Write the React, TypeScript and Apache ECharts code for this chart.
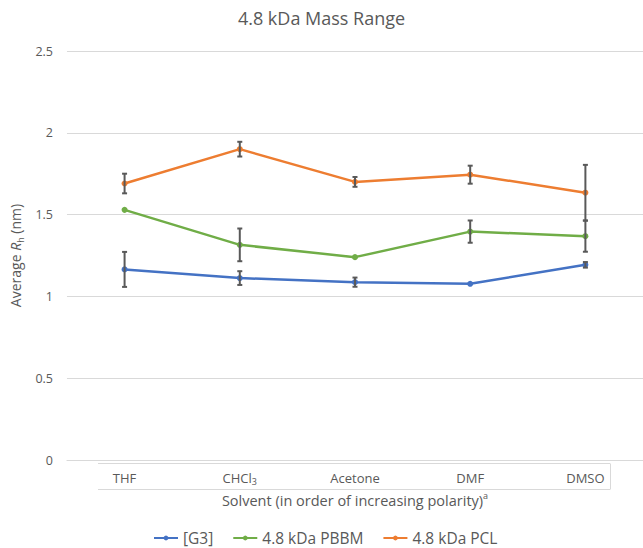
import React, { useEffect, useRef } from "react";
import * as echarts from "echarts";

const categories = ["THF", "CHCl3", "Acetone", "DMF", "DMSO"];
const seriesNames = ["[G3]", "4.8 kDa PBBM", "4.8 kDa PCL"];
const g3Values = [1.165, 1.112, 1.087, 1.077, 1.193];
const g3Errors = [0.107, 0.042, 0.028, 0, 0.017];
const pbbmValues = [1.529, 1.315, 1.24, 1.396, 1.368];
const pbbmErrors = [0, 0.1, 0, 0.068, 0.095];
const pclValues = [1.69, 1.9, 1.7, 1.744, 1.634];
const pclErrors = [0.06, 0.045, 0.03, 0.055, 0.17];
const yTicks = [0, 0.5, 1, 1.5, 2, 2.5];

const colors = ["#4472C4", "#70AD47", "#ED7D31"];
const FONT = "Open Sans";
const TXT = "#595959";

function errData(values: number[], errs: number[]) {
  return values
    .map((v, i) => [i, v - errs[i], v + errs[i], errs[i]])
    .filter((d) => d[3] > 0);
}

export default function App() {
  const ref = useRef<HTMLDivElement>(null);
  useEffect(() => {
    if (!ref.current) return;
    const chart = echarts.init(ref.current, null, { renderer: "svg" });
    const renderErr = (params: any, api: any) => {
      const x = api.value(0);
      const top = api.coord([x, api.value(2)]);
      const bot = api.coord([x, api.value(1)]);
      const cap = 2.5;
      const style = { stroke: "#595959", lineWidth: 2 };
      return {
        type: "group",
        children: [
          { type: "line", shape: { x1: top[0], y1: top[1], x2: bot[0], y2: bot[1] }, style },
          { type: "line", shape: { x1: top[0] - cap, y1: top[1], x2: top[0] + cap, y2: top[1] }, style },
          { type: "line", shape: { x1: bot[0] - cap, y1: bot[1], x2: bot[0] + cap, y2: bot[1] }, style },
        ],
      };
    };
    const lineSeries = (name: string, data: number[], color: string) => ({
      name,
      type: "line",
      data,
      symbol: "circle",
      symbolSize: 6,
      itemStyle: { color },
      lineStyle: { color, width: 2.5 },
      z: 2,
    });
    const errSeries = (values: number[], errs: number[]) => ({
      type: "custom",
      renderItem: renderErr,
      data: errData(values, errs),
      encode: { x: 0, y: [1, 2] },
      z: 5,
      silent: true,
    });
    chart.setOption({
      animation: false,
      textStyle: { fontFamily: FONT },
      title: {
        text: "4.8 kDa Mass Range",
        left: "center",
        top: 4,
        textStyle: { fontFamily: FONT, fontSize: 18, fontWeight: "normal", color: TXT },
      },
      grid: { left: 62, right: -2, top: 51, bottom: 88, containLabel: false },
      legend: {
        data: seriesNames,
        left: 153,
        top: 529,
        itemWidth: 24,
        itemHeight: 6,
        itemGap: 19,
        padding: 0,
        textStyle: { fontFamily: FONT, fontSize: 15.5, color: TXT, lineHeight: 18 },
      },
      xAxis: {
        type: "category",
        data: categories,
        boundaryGap: true,
        axisLine: { show: true, lineStyle: { color: "#d9d9d9", width: 1 } },
        axisTick: { show: false },
        axisLabel: {
          margin: 9,
          formatter: (v: string) => (v === "CHCl3" ? "{n|CHCl}{s|3}" : "{n|" + v + "}"),
          rich: {
            n: { fontFamily: FONT, fontSize: 13, color: TXT, lineHeight: 17 },
            s: { fontFamily: FONT, fontSize: 9, color: TXT, verticalAlign: "bottom", lineHeight: 17 },
          },
        },
        name: "{n|Solvent (in order of increasing polarity)}{s|a}",
        nameLocation: "middle",
        nameGap: 30,
        nameTextStyle: {
          rich: {
            n: { fontFamily: FONT, fontSize: 14.5, color: TXT, lineHeight: 19 },
            s: { fontFamily: FONT, fontSize: 9, color: TXT, verticalAlign: "top", lineHeight: 19 },
          },
        },
      },
      yAxis: {
        type: "value",
        min: yTicks[0],
        max: yTicks[yTicks.length - 1],
        interval: 0.5,
        axisLine: { show: false },
        axisTick: { show: false },
        splitLine: { lineStyle: { color: "#d9d9d9", width: 1 } },
        axisLabel: { margin: 14, fontFamily: FONT, fontSize: 12.5, color: TXT },
        name: "{n|Average }{i|R}{s|h}{n| (nm)}",
        nameLocation: "middle",
        nameGap: 35,
        nameTextStyle: {
          rich: {
            n: { fontFamily: FONT, fontSize: 14, color: TXT, lineHeight: 19 },
            i: { fontFamily: FONT, fontSize: 14, fontStyle: "italic", color: TXT, lineHeight: 19 },
            s: { fontFamily: FONT, fontSize: 9, color: TXT, verticalAlign: "bottom", lineHeight: 19 },
          },
        },
      },
      graphic: [
        { type: "line", shape: { x1: 98, y1: 463.5, x2: 610, y2: 463.5 }, style: { stroke: "#d9d9d9", lineWidth: 1 }, silent: true },
        { type: "line", shape: { x1: 98, y1: 489.5, x2: 610, y2: 489.5 }, style: { stroke: "#d9d9d9", lineWidth: 1 }, silent: true },
        { type: "line", shape: { x1: 610.5, y1: 463.5, x2: 610.5, y2: 489.5 }, style: { stroke: "#d9d9d9", lineWidth: 1 }, silent: true },
      ],
      series: [
        lineSeries(seriesNames[0], g3Values, colors[0]),
        lineSeries(seriesNames[1], pbbmValues, colors[1]),
        lineSeries(seriesNames[2], pclValues, colors[2]),
        errSeries(g3Values, g3Errors),
        errSeries(pbbmValues, pbbmErrors),
        errSeries(pclValues, pclErrors),
      ],
    });
    return () => chart.dispose();
  }, []);
  return (
    <div
      ref={ref}
      style={{ position: "absolute", left: 0, top: 0, width: 643, height: 548, background: "#fff" }}
    />
  );
}
